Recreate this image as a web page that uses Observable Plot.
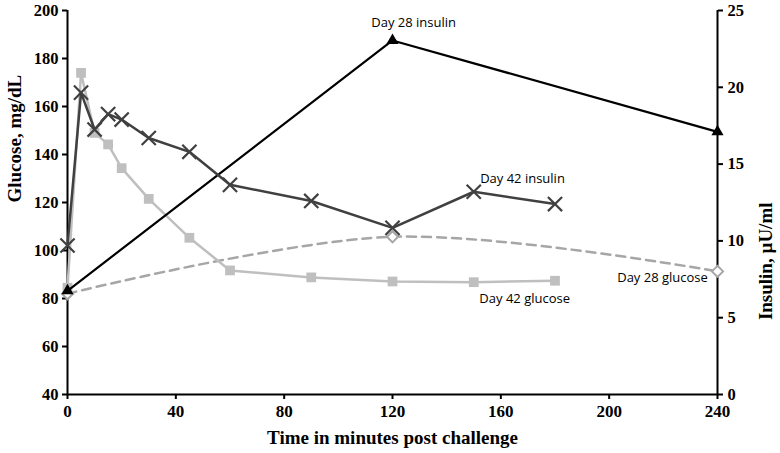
<!DOCTYPE html>
<html>
<head>
<meta charset="utf-8">
<script src="https://cdn.jsdelivr.net/npm/d3@7"></script>
<script src="https://cdn.jsdelivr.net/npm/@observablehq/plot@0.6"></script>
<style>
  html, body { margin: 0; padding: 0; background: #fff; }
</style>
</head>
<body>
<div id="chart"></div>
<script>
// Data
const timesDay42 = [0, 5, 10, 15, 20, 30, 45, 60, 90, 120, 150, 180];
const glucoseDay42 = [84.5, 174, 149, 144.2, 134.3, 121.5, 105.3, 91.7, 88.8, 87.1, 86.8, 87.4];
const insulinDay42 = [9.7, 19.65, 17.25, 18.25, 17.9, 16.7, 15.8, 13.65, 12.6, 10.85, 13.2, 12.4];
const timesDay28 = [0, 120, 240];
const glucoseDay28 = [82, 105.7, 91.3];
const insulinDay28 = [6.75, 23.05, 17.1];

const xTicks = [0, 40, 80, 120, 160, 200, 240];
const glucoseTicks = [40, 60, 80, 100, 120, 140, 160, 180, 200];
const insulinTicks = [0, 5, 10, 15, 20, 25];

const seriesLabels = [
  {text: "Day 28 insulin", t: 127.8, g: 195},
  {text: "Day 42 insulin", t: 168, g: 129.7},
  {text: "Day 42 glucose", t: 168.8, g: 79.7},
  {text: "Day 28 glucose", t: 219.7, g: 88.8}
];

// Insulin (0–25) shares the plot's vertical extent with glucose (40–200)
const gMin = 40, gMax = 200, iMax = 25;
const toG = v => gMin + v * (gMax - gMin) / iMax;
const toI = g => (g - gMin) * iMax / (gMax - gMin);

const d42 = timesDay42.map((t, i) => ({t, glucose: glucoseDay42[i], insulin: toG(insulinDay42[i])}));
const d28 = timesDay28.map((t, i) => ({t, glucose: glucoseDay28[i], insulin: toG(insulinDay28[i])}));

const serif = "'Liberation Serif', 'Times New Roman', serif";

const chart = Plot.plot({
  width: 780,
  height: 453,
  marginLeft: 67,
  marginRight: 63,
  marginTop: 10,
  marginBottom: 59,
  style: {fontFamily: serif, fontSize: "17px", fontWeight: "bold", color: "#000", background: "#fff"},
  x: {domain: [0, 240]},
  y: {domain: [gMin, gMax]},
  marks: [
    Plot.axisX({ticks: xTicks, tickSize: 5, strokeWidth: 2, tickPadding: 5, fontSize: 17,
      label: null}),
    Plot.axisY({anchor: "left", ticks: glucoseTicks, tickSize: 5, strokeWidth: 2, tickPadding: 4, fontSize: 16.5,
      label: null}),
    Plot.axisY({anchor: "right", ticks: insulinTicks.map(toG), tickFormat: d => String(Math.round(toI(d))),
      tickSize: 5, strokeWidth: 2, tickPadding: 5, fontSize: 16.5, label: null}),
    // Axis titles
    Plot.text(["Time in minutes post challenge"], {frameAnchor: "bottom", dy: 49, text: d => d,
      fontSize: 19, fontWeight: "bold", fontFamily: serif, fill: "#000"}),
    Plot.text(["Glucose, mg/dL"], {frameAnchor: "left", dx: -53, rotate: -90, text: d => d,
      fontSize: 19, fontWeight: "bold", fontFamily: serif, fill: "#000"}),
    Plot.text(["Insulin, µU/ml"], {frameAnchor: "right", dx: 48, rotate: -90, text: d => d,
      fontSize: 19, fontWeight: "bold", fontFamily: serif, fill: "#000"}),

    Plot.ruleX([0], {stroke: "#000", strokeWidth: 2}),
    Plot.ruleX([240], {stroke: "#000", strokeWidth: 2}),
    Plot.ruleY([gMin], {stroke: "#000", strokeWidth: 2}),

    // Day 28 glucose: smoothed dashed line, hollow diamonds
    Plot.line(d28, {x: "t", y: "glucose", curve: "catmull-rom", stroke: "#a6a6a6", strokeWidth: 2.5, strokeDasharray: "9,6"}),
    Plot.dot(d28, {x: "t", y: "glucose", symbol: "diamond2", r: 5, stroke: "#a6a6a6", strokeWidth: 2, fill: "#fff"}),

    // Day 42 glucose: light grey, squares
    Plot.line(d42, {x: "t", y: "glucose", stroke: "#bfbfbf", strokeWidth: 2.5}),
    Plot.dot(d42, {x: "t", y: "glucose", symbol: "square", r: 5.5, fill: "#bfbfbf", stroke: "none"}),

    // Day 28 insulin: black, triangles
    Plot.line(d28, {x: "t", y: "insulin", stroke: "#000", strokeWidth: 2.2}),
    Plot.dot(d28, {x: "t", y: "insulin", symbol: "triangle", r: 4.5, fill: "#000", stroke: "none"}),

    // Day 42 insulin: dark grey, crosses
    Plot.line(d42, {x: "t", y: "insulin", stroke: "#404040", strokeWidth: 2.5}),
    Plot.dot(d42, {x: "t", y: "insulin", symbol: "times", r: 6.5, stroke: "#404040", strokeWidth: 2.2}),

    // Series labels
    Plot.text(seriesLabels, {x: "t", y: "g", text: "text", fontFamily: "'Open Sans', sans-serif",
      fontSize: 13, fontWeight: "normal", fill: "#000", textAnchor: "middle", lineAnchor: "middle"})
  ]
});

document.getElementById("chart").appendChild(chart);
</script>
</body>
</html>
